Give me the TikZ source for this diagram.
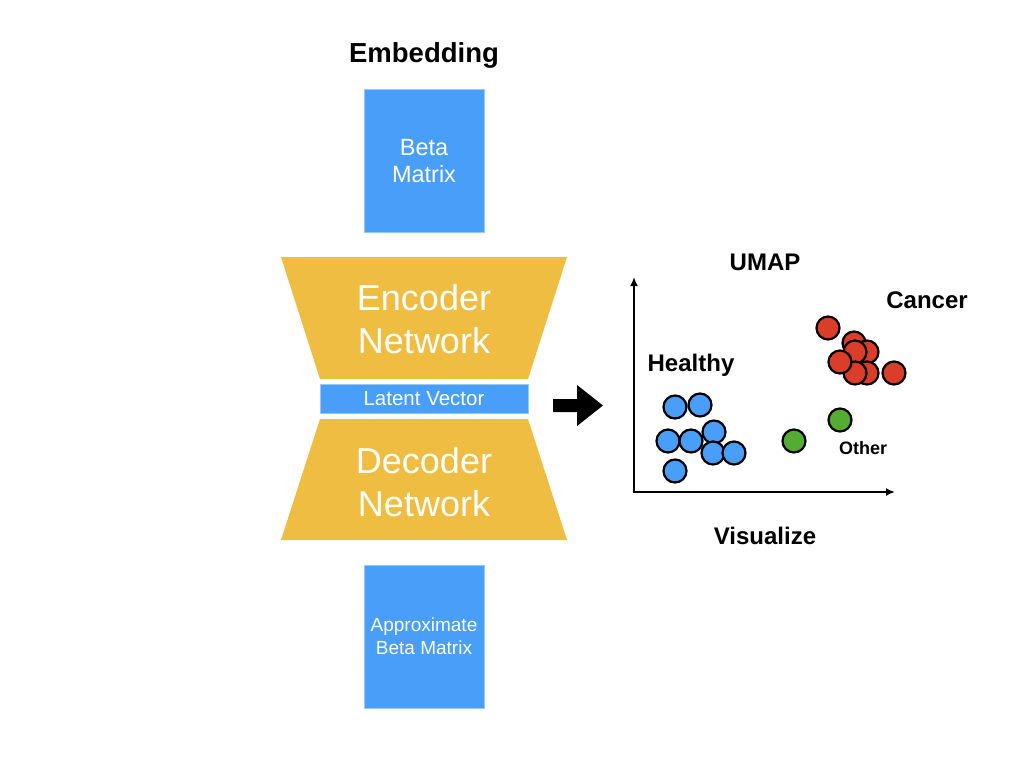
\documentclass[tikz,border=0pt]{standalone}
\usepackage{fontspec}
\setmainfont{Liberation Sans}
\usetikzlibrary{arrows.meta}
\definecolor{boxblue}{RGB}{72,158,248}
\definecolor{edgeblue}{RGB}{150,200,250}
\definecolor{gold}{RGB}{238,189,66}
\definecolor{dotred}{RGB}{218,62,40}
\definecolor{dotgreen}{RGB}{84,172,51}
\begin{document}
\begin{tikzpicture}[x=1pt,y=-1pt,
  matbox/.style={fill=boxblue,draw=edgeblue,line width=0.6pt,minimum width=120pt,minimum height=143pt,inner sep=0pt,text=white,align=center},
  nettext/.style={text=white,align=center,font=\fontsize{36}{43}\selectfont},
  lbl/.style={anchor=base,font=\bfseries\fontsize{24}{28}\selectfont},
  dot/.style={circle,draw=black,line width=2.2pt,minimum size=23pt,inner sep=0pt},
  bdot/.style={dot,fill=boxblue},
  rdot/.style={dot,fill=dotred},
  gdot/.style={dot,fill=dotgreen},
  axis/.style={line width=2pt,{Latex[length=9pt,width=8pt]}-{Latex[length=9pt,width=8pt]}}
]
\useasboundingbox (0,0) rectangle (1024,768);
\fill[white] (0,0) rectangle (1024,768);

% titles
\node[lbl,font=\bfseries\fontsize{27.5}{30}\selectfont] (emb) at (424,63) {Embedding};

% input / output matrices
\node[matbox,font=\fontsize{23.5}{27}\selectfont,text depth=0pt] (beta) at (424,160.5) {Beta\\Matrix};
\node[matbox,font=\fontsize{19}{23}\selectfont] (approx) at (424,636.5) {Approximate\\Beta Matrix};

% encoder / decoder
\fill[gold] (281,257) -- (567,257) -- (528,379) -- (320,379) -- cycle;
\node[nettext] (enc) at (424,319) {Encoder\\Network};
\node[fill=boxblue,draw=edgeblue,line width=0.6pt,minimum width=208pt,minimum height=29pt,inner sep=0pt,text=white,font=\fontsize{20.5}{22}\selectfont] (lat) at (424,398.5) {Latent Vector};
\fill[gold] (320,419) -- (528,419) -- (567,540) -- (281,540) -- cycle;
\node[nettext] (dec) at (424,482) {Decoder\\Network};

% block arrow
\coordinate (arrtail) at (553,405.5);
\coordinate (arrtip) at (603,405.5);
\fill[black] (553,399) -- (577,399) -- (577,385) -- (arrtip) -- (577,426) -- (577,412) -- (553,412) -- cycle;

% scatter plot
\coordinate (ytop) at (634,277);
\coordinate (origin) at (634,492);
\coordinate (xend) at (895,492);
\draw[axis] (ytop) -- (origin) -- (xend);

\node[lbl] (umap) at (765,270) {UMAP};
\node[lbl] (cancer) at (927,308) {Cancer};
\node[lbl] (healthy) at (691,371) {Healthy};
\node[lbl,font=\bfseries\fontsize{18}{21}\selectfont] (other) at (863,454) {Other};
\node[lbl] (vis) at (765,544) {Visualize};

\foreach \x/\y [count=\i] in {675/407,700/405,668/441,714/432,691/441,713/453,734/453,675/471}
  \node[bdot] (b\i) at (\x,\y) {};
\foreach \x/\y [count=\i] in {828/328,854/343,867/352,855/352,867/373,855/373,840/362,894/373}
  \node[rdot] (r\i) at (\x,\y) {};
\foreach \x/\y [count=\i] in {794/441,840/420}
  \node[gdot] (g\i) at (\x,\y) {};
\end{tikzpicture}
\end{document}
